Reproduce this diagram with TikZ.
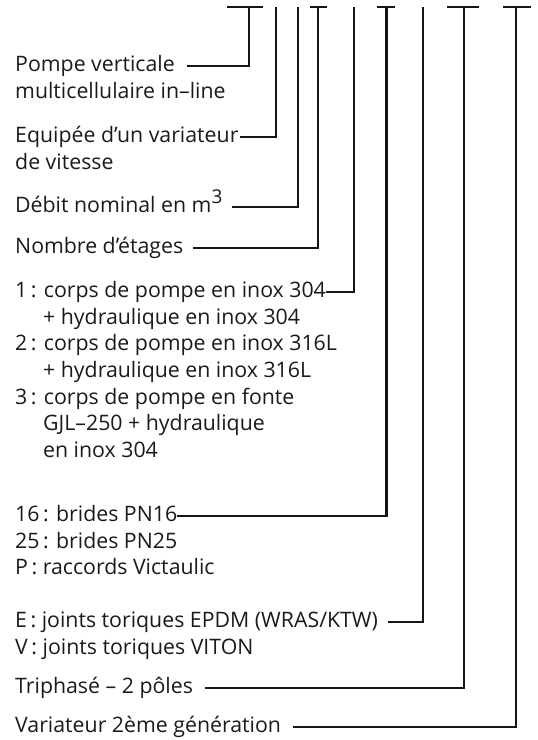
\documentclass[tikz,border=0pt]{standalone}
\usepackage{fontspec}
\setmainfont{Open Sans}
\definecolor{txt}{HTML}{1A1A1A}
\definecolor{ln}{HTML}{151515}
\begin{document}
\begin{tikzpicture}[x=1pt,y=-1pt,
  lbl/.style={anchor=base west, inner sep=0pt, font=\fontsize{21.3}{25}\selectfont, text=txt, text height=15pt, text depth=5pt},
  conn/.style={draw=ln, line width=2.1pt},
]
\useasboundingbox (0,0) rectangle (538,740);

% text lines
\node[lbl] (t1)  at (15,71)  {Pompe verticale};
\node[lbl] (t1b) at (15,98)  {multicellulaire in–line};
\node[lbl] (t2)  at (15,142) {Equipée d’un variateur};
\node[lbl] (t2b) at (15,169) {de vitesse};
\node[lbl] (t3)  at (15,212) {Débit nominal en m\raisebox{0.4em}{\fontsize{19}{19}\selectfont 3}};
\node[lbl] (t4)  at (15,253) {Nombre d’étages};
\node[lbl] (t5)  at (15,297) {1\,: corps de pompe en inox 304};
\node[lbl] (t5b) at (43,324) {+ hydraulique en inox 304};
\node[lbl] (t5c) at (15,350) {2\,: corps de pompe en inox 316L};
\node[lbl] (t5d) at (43,377) {+ hydraulique en inox 316L};
\node[lbl] (t5e) at (15,404) {3\,: corps de pompe en fonte};
\node[lbl] (t5f) at (43,430) {GJL–250 + hydraulique};
\node[lbl] (t5g) at (43,457) {en inox 304};
\node[lbl] (t6)  at (15,521) {16\,: brides PN16};
\node[lbl] (t6b) at (15,548) {25\,: brides PN25};
\node[lbl] (t6c) at (15,574) {P\,: raccords Victaulic};
\node[lbl] (t7)  at (15,627) {E\,: joints toriques EPDM (WRAS/KTW)};
\node[lbl] (t7b) at (15,654) {V\,: joints toriques VITON};
\node[lbl] (t8)  at (15,693) {Triphasé – 2 pôles};
\node[lbl] (t9)  at (15,732) {Variateur 2ème génération};

% tops of the verticals
\coordinate (v1) at (249,7);
\coordinate (v2) at (276,7);
\coordinate (v3) at (298,7);
\coordinate (v4) at (318,7);
\coordinate (v5) at (354,7);
\coordinate (v6) at (386.5,7);
\coordinate (v7) at (423,7);
\coordinate (v8) at (464,7);
\coordinate (v9) at (516,7);

% top bars
\coordinate (b1l) at (227,7); \coordinate (b1r) at (263,7);
\coordinate (b4l) at (310,7); \coordinate (b4r) at (327,7);
\coordinate (b6l) at (377,7); \coordinate (b6r) at (395,7);
\coordinate (b8l) at (447,7); \coordinate (b8r) at (479,7);
\coordinate (b9l) at (503,7); \coordinate (b9r) at (531,7);
\draw[conn] (b1l) -- (b1r);
\draw[conn] (b4l) -- (b4r);
\draw[conn] (b6l) -- (b6r);
\draw[conn] (b8l) -- (b8r);
\draw[conn] (b9l) -- (b9r);

% connectors
\draw[conn] ([xshift=12pt]t1.east) -| (v1);
\draw[conn] ([xshift=1pt]t2.east) -| (v2);
\draw[conn] ([xshift=9pt]t3.east) -| (v3);
\draw[conn] ([xshift=10pt]t4.east) -| (v4);
\draw[conn] (t5.east) -| (v5);
\draw[conn] (t6.east) -| (v6);
\draw[conn] ([xshift=10pt]t7.east) -| (v7);
\draw[conn] ([xshift=12pt]t8.east) -| (v8);
\draw[conn] ([xshift=12pt]t9.east) -| (v9);
\end{tikzpicture}
\end{document}
